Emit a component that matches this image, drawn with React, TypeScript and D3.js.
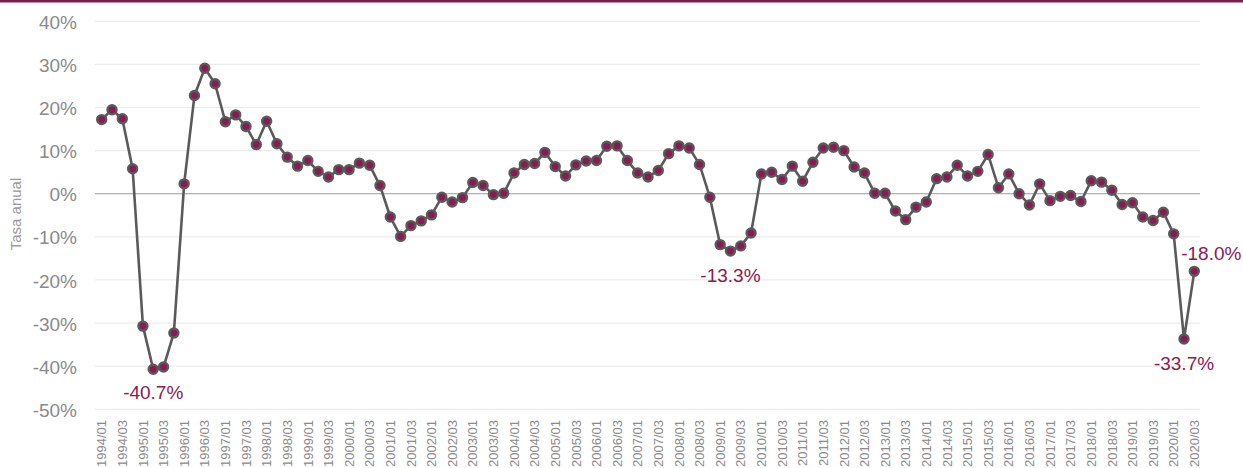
import * as d3 from "d3";
import { useRef, useEffect } from "react";

const W = 1243;
const H = 468;

// quarterly annual rate, 1994Q1 .. 2020Q3
const startYear = 1994;
const values = [
  17.2, 19.5, 17.4, 5.8,
  -30.7, -40.7, -40.2, -32.3,
  2.3, 22.8, 29.1, 25.5,
  16.7, 18.3, 15.6, 11.4,
  16.8, 11.6, 8.5, 6.4,
  7.7, 5.2, 3.9, 5.6,
  5.6, 7.1, 6.6, 1.9,
  -5.4, -9.9, -7.4, -6.3,
  -4.9, -0.8, -1.9, -0.9,
  2.6, 1.9, -0.2, 0.1,
  4.8, 6.8, 7.0, 9.6,
  6.3, 4.1, 6.7, 7.6,
  7.7, 11.0, 11.1, 7.7,
  4.8, 3.9, 5.4, 9.3,
  11.1, 10.6, 6.8, -0.8,
  -11.8, -13.3, -12.1, -9.1,
  4.6, 5.0, 3.3, 6.4,
  2.9, 7.3, 10.6, 10.8,
  10.0, 6.2, 4.8, 0.1,
  0.1, -4.0, -6.0, -3.1,
  -1.9, 3.5, 3.9, 6.6,
  4.1, 5.2, 9.1, 1.4,
  4.6, 0.0, -2.6, 2.3,
  -1.6, -0.6, -0.4, -1.8,
  3.0, 2.7, 0.8, -2.5,
  -2.1, -5.4, -6.2, -4.3,
  -9.3, -33.7, -18.0,
];

const periods = values.map((_, i) => {
  const y = startYear + Math.floor(i / 4);
  const q = (i % 4) + 1;
  return `${y}/${String(q).padStart(2, "0")}`;
});

const yTicks = [40, 30, 20, 10, 0, -10, -20, -30, -40, -50];

// highlighted points: index, label, dx, dy
const callouts = [
  { idx: 5, text: "-40.7%", dx: 0, dy: 30 },
  { idx: 61, text: "-13.3%", dx: 0, dy: 31 },
  { idx: 105, text: "-33.7%", dx: 0, dy: 31 },
  { idx: 106, text: "-18.0%", dx: 17, dy: -11 },
];

const maroon = "#8a1a52";
const lineGray = "#5a5a5a";
const font = "'Liberation Sans', Arial, sans-serif";

const App = () => {
  const svgRef = useRef<SVGSVGElement>(null);

  useEffect(() => {
    const svg = d3.select(svgRef.current).html("");

    const x = d3.scaleLinear().domain([0, values.length - 1]).range([101.7, 1194.3]);
    const y = d3.scaleLinear().domain([-50, 40]).range([409.3, 21.3]);

    // top bar
    svg.append("rect").attr("x", 0).attr("y", 0).attr("width", W).attr("height", 2.5).attr("fill", "#7a1f47");

    // grid
    svg.append("g")
      .selectAll("line")
      .data(yTicks)
      .enter()
      .append("line")
      .attr("x1", 95)
      .attr("x2", 1200)
      .attr("y1", d => y(d))
      .attr("y2", d => y(d))
      .attr("stroke", d => (d === 0 ? "#9a9a9a" : "#ebebeb"))
      .attr("stroke-width", 1.2);

    // y tick labels
    svg.append("g")
      .selectAll("text")
      .data(yTicks)
      .enter()
      .append("text")
      .attr("x", 77)
      .attr("y", d => y(d))
      .attr("dy", "0.4em")
      .attr("text-anchor", "end")
      .attr("fill", "#8a8a8a")
      .style("font-size", "19px")
      .style("font-family", font)
      .text(d => `${d}%`);

    // y title
    svg.append("text")
      .attr("transform", `translate(21, 214) rotate(-90)`)
      .attr("text-anchor", "middle")
      .attr("fill", "#9a9a9a")
      .style("font-size", "15px")
      .style("font-family", font)
      .text("Tasa anual");

    // x tick labels every two quarters
    svg.append("g")
      .selectAll("text")
      .data(periods.filter((_, i) => i % 2 === 0))
      .enter()
      .append("text")
      .attr("transform", d => `translate(${x(periods.indexOf(d))}, 420) rotate(-90)`)
      .attr("dy", "0.36em")
      .attr("text-anchor", "end")
      .attr("fill", "#8a8a8a")
      .style("font-size", "13px")
      .style("font-family", font)
      .text(d => d);

    // line
    const line = d3.line<number>()
      .x((_, i) => x(i))
      .y(d => y(d));

    svg.append("path")
      .datum(values)
      .attr("d", line)
      .attr("fill", "none")
      .attr("stroke", lineGray)
      .attr("stroke-width", 2.6)
      .attr("stroke-linejoin", "round");

    // markers
    svg.append("g")
      .selectAll("circle")
      .data(values)
      .enter()
      .append("circle")
      .attr("cx", (_, i) => x(i))
      .attr("cy", d => y(d))
      .attr("r", 4.5)
      .attr("fill", maroon)
      .attr("stroke", lineGray)
      .attr("stroke-width", 2.4);

    // callouts
    svg.append("g")
      .selectAll("text")
      .data(callouts)
      .enter()
      .append("text")
      .attr("x", d => x(d.idx) + d.dx)
      .attr("y", d => y(values[d.idx]) + d.dy)
      .attr("text-anchor", "middle")
      .attr("fill", maroon)
      .style("font-size", "19px")
      .style("font-family", font)
      .text(d => d.text);
  }, []);

  return (
    <svg
      ref={svgRef}
      width={W}
      height={H}
      style={{ position: "absolute", left: 0, top: 0, background: "#fff" }}
    ></svg>
  );
};

export default App;
